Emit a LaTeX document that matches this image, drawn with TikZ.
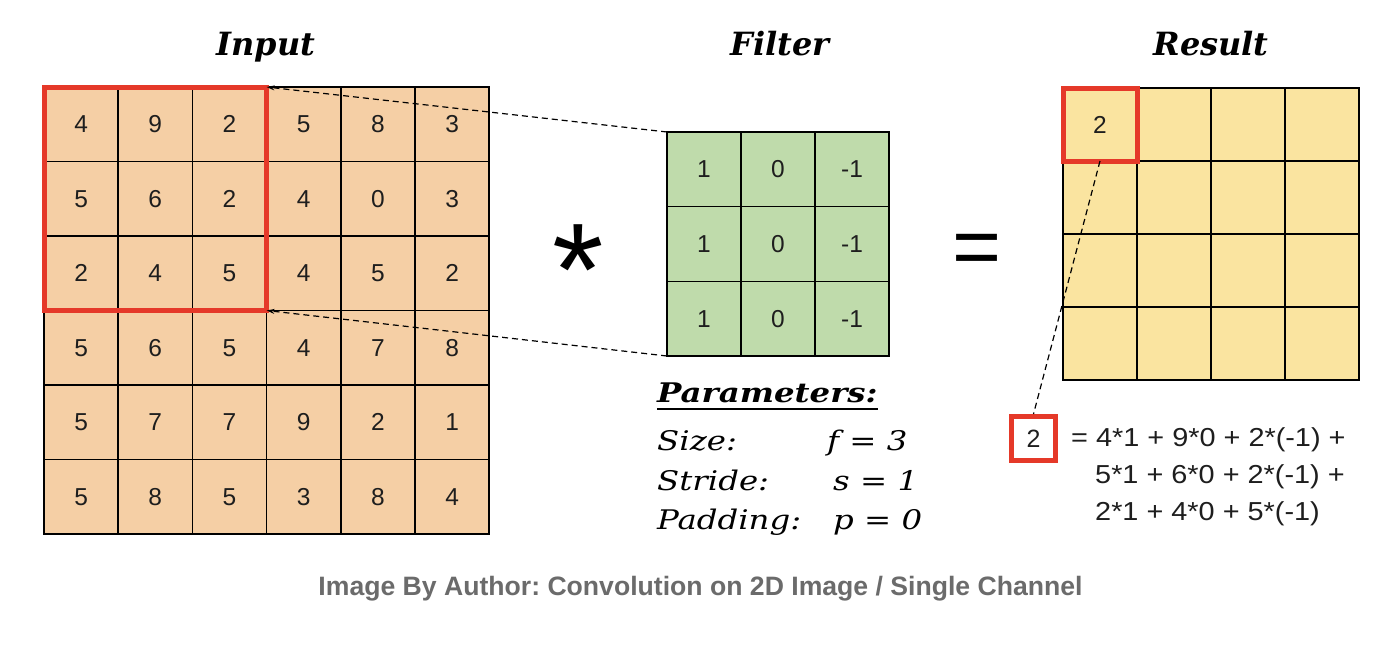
\documentclass[tikz,border=0pt]{standalone}
\usepackage{fontspec}
\setmainfont{Liberation Sans}
\newfontfamily\titlefont{DejaVu Serif}
\newfontfamily\paramfont[FakeStretch=1.2]{DejaVu Serif}
\usetikzlibrary{arrows.meta,fit}
\definecolor{inpeach}{RGB}{245,207,165}
\definecolor{fgreen}{RGB}{191,219,171}
\definecolor{ryellow}{RGB}{250,228,160}
\definecolor{redbox}{RGB}{229,57,41}
\definecolor{capgrey}{RGB}{107,107,107}
\definecolor{ink}{RGB}{30,30,30}
\frenchspacing
\tikzset{
  cell/.style={draw=black, line width=1.6pt, inner sep=0pt, outer sep=0pt, anchor=north west,
    text=ink, font=\fontsize{24.5}{24.5}\selectfont},
  incell/.style={cell, fill=inpeach, minimum width=74.2pt, minimum height=74.5pt},
  fcell/.style={cell, fill=fgreen, minimum width=74pt, minimum height=74.67pt},
  rcell/.style={cell, fill=ryellow, minimum width=74pt, minimum height=73pt},
  redwin/.style={draw=redbox, line width=5pt, inner sep=0pt, outer sep=0pt},
  conn/.style={line width=1.2pt, dash pattern=on 6pt off 4pt},
  title/.style={anchor=base, font=\titlefont\bfseries\itshape\fontsize{32}{32}\selectfont},
  param/.style={anchor=base west, inner sep=0pt, font=\paramfont\itshape\fontsize{27}{27}\selectfont},
  eqtext/.style={anchor=base west, inner sep=0pt, text=ink, font=\fontsize{26}{26}\selectfont},
  bigsym/.style={anchor=north, inner sep=0pt},
  caption/.style={anchor=base, inner sep=0pt, text=capgrey, font=\bfseries\fontsize{26.6}{26.6}\selectfont},
}
\begin{document}
\begin{tikzpicture}[x=1pt,y=-1pt]
\useasboundingbox[fill=white] (0,0) rectangle (1396,657);

% titles
\node[title] (tin) at (266,55) {Input};
\node[title] (tfi) at (780,55) {Filter};
\node[title] (tre) at (1211,55) {Result};

% input grid
\foreach \row [count=\r] in {{4,9,2,5,8,3},{5,6,2,4,0,3},{2,4,5,4,5,2},{5,6,5,4,7,8},{5,7,7,9,2,1},{5,8,5,3,8,4}}{
  \foreach \v [count=\c] in \row {
    \node[incell] (in-\r-\c) at ({44+74.2*(\c-1)},{87+74.5*(\r-1)}) {\v};
  }
}
\node[redwin, fit=(in-1-1)(in-3-3)] (win) {};

% filter grid
\foreach \row [count=\r] in {{1,0,-1},{1,0,-1},{1,0,-1}}{
  \foreach \v [count=\c] in \row {
    \node[fcell] (f-\r-\c) at ({667+74*(\c-1)},{132+74.67*(\r-1)}) {\v};
  }
}

% result grid
\foreach \r in {1,...,4}{
  \foreach \c in {1,...,4}{
    \node[rcell] (r-\r-\c) at ({1063+74*(\c-1)},{88+73*(\r-1)}) {};
  }
}
\node[font=\fontsize{24.5}{24.5}\selectfont, text=ink] (rv) at (r-1-1.center) {2};
\node[redwin, fit=(r-1-1)] (rwin) {};

% connectors
\draw[conn, -{Stealth[length=8pt,width=5pt]}] (f-1-1.north west) -- (win.north east);
\draw[conn, -{Stealth[length=8pt,width=5pt]}] (f-3-1.south west) -- (win.south east);

% operators
\node[bigsym, font=\fontsize{132}{132}\selectfont] (star) at (578,224) {*};
\node[bigsym, font=\fontsize{84}{84}\selectfont] (eq) at (977.5,234) {=};

% parameters
\node[anchor=base west, inner sep=0pt, font=\paramfont\bfseries\itshape\fontsize{27}{27}\selectfont] (ptitle) at (657,402) {Parameters:};
\draw[line width=2pt] ([yshift=-6pt]ptitle.south west) -- ([yshift=-6pt]ptitle.south east);
\node[param] (psize) at (657,450) {Size:};
\node[param] (pstride) at (657,490) {Stride:};
\node[param] (ppad) at (657,529) {Padding:};
\node[param] (vsize) at (827,450) {f = 3};
\node[param] (vstride) at (833,490) {s = 1};
\node[param] (vpad) at (833,529) {p = 0};

% small result box and equation
\node[draw=redbox, line width=5pt, fill=white, minimum width=44pt, minimum height=44pt, inner sep=0pt,
  text=ink, font=\fontsize{25}{25}\selectfont] (sb) at (1033.5,438.5) {2};
\draw[conn] (rwin.south) -- (sb.north);
\node[eqtext] (eq1) at (1071,446) {\scalebox{1.11}[1]{= 4*1 + 9*0 + 2*(-1) +}};
\node[eqtext] (eq2) at (1095,483) {\scalebox{1.11}[1]{5*1 + 6*0 + 2*(-1) +}};
\node[eqtext] (eq3) at (1095,520) {\scalebox{1.11}[1]{2*1 + 4*0 + 5*(-1)}};

% caption
\node[caption] (cap) at (700.5,595) {Image By Author: Convolution on 2D Image / Single Channel};
\end{tikzpicture}
\end{document}
